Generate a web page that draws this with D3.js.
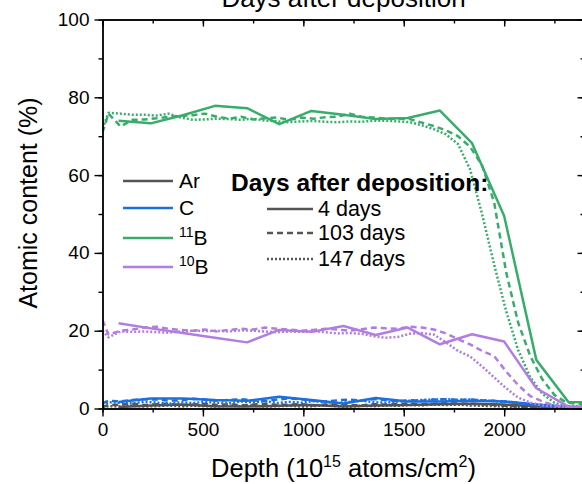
<!DOCTYPE html>
<html>
<head>
<meta charset="utf-8">
<script src="https://cdn.jsdelivr.net/npm/d3@7"></script>
<style>
  body { margin: 0; background: #fff; }
  text { font-family: Arial, "Liberation Sans", sans-serif; fill: #000; }
</style>
</head>
<body>
<div id="container"></div>
<script>
/* DATA */
// depth points (10^15 atoms/cm2) of the 4 day profile
const depth4 = [80, 240, 400, 560, 720, 880, 1040, 1200, 1360, 1520, 1680, 1840, 2000, 2160, 2320, 2480];
// depth points of the 103 and 147 day profiles
const depthLater = [0, 30, 90, 150, 210, 270, 330, 390, 450, 510, 570, 630, 690, 750, 810, 870, 930, 990, 1050, 1110,
  1170, 1230, 1290, 1350, 1410, 1470, 1530, 1590, 1650, 1710, 1770, 1830, 1890, 1950, 2010, 2070, 2130, 2190, 2250, 2310, 2370, 2430];

// 4 days
const ar4 = [0.4, 0.8, 1.0, 0.6, 0.5, 0.7, 0.9, 0.5, 0.8, 0.9, 1.1, 1.2, 1.0, 0.6, 0.3, 0.2];
const c4 = [1.7, 2.6, 2.6, 2.2, 2.0, 3.0, 2.2, 1.3, 2.7, 1.8, 1.8, 2.0, 1.8, 1.0, 0.4, 0.3];
const b11_4 = [74.0, 73.3, 75.4, 77.8, 77.2, 73.1, 76.5, 75.5, 74.4, 74.7, 76.6, 68.2, 49.5, 12.5, 1.7, 1.5];
const b10_4 = [21.9, 20.6, 19.4, 18.2, 17.0, 20.2, 19.7, 21.2, 18.9, 20.8, 16.5, 19.1, 17.2, 5.2, 0.5, 0.3];

// 103 days
const ar103 = [0.4, 0.9, 1.0, 1.2, 0.9, 1.1, 1.3, 0.8, 1.0, 1.2, 0.9, 1.1, 0.8, 1.0, 1.2, 0.9, 1.0, 1.1, 0.8, 1.0, 1.2,
  0.9, 0.8, 1.1, 1.0, 1.2, 1.3, 1.1, 1.2, 1.4, 1.3, 1.2, 1.1, 0.9, 0.7, 0.5, 0.4, 0.3, 0.2, 0.2, 0.2, 0.2];
const c103 = [1.3, 2.0, 1.8, 2.2, 2.4, 2.3, 2.0, 2.1, 2.5, 2.3, 2.0, 2.2, 2.4, 2.1, 1.9, 2.3, 2.6, 2.4, 2.0, 1.8, 2.1,
  2.3, 2.0, 2.4, 2.2, 1.9, 2.1, 2.0, 2.3, 2.4, 2.2, 2.3, 2.1, 2.0, 1.8, 1.5, 1.0, 0.6, 0.4, 0.3, 0.3, 0.3];
const b11_103 = [71.0, 75.8, 72.5, 74.2, 74.3, 74.6, 75.0, 75.2, 75.4, 75.8, 75.0, 74.5, 75.0, 74.3, 74.6, 74.8, 74.2,
  74.8, 74.5, 74.9, 75.0, 75.8, 75.0, 74.8, 74.5, 74.5, 74.4, 73.5, 72.6, 71.5, 70.0, 67.3, 62.5, 53.0, 35.0, 22.0, 13.5,
  7.5, 3.5, 1.5, 1.2, 1.0];
const b10_103 = [22.7, 19.0, 20.0, 20.3, 20.8, 21.0, 20.5, 20.2, 20.0, 20.3, 19.8, 20.2, 20.5, 20.3, 20.8, 20.5, 20.3,
  20.0, 20.2, 20.5, 20.3, 20.0, 20.4, 20.8, 20.6, 20.5, 21.0, 20.8, 20.3, 19.3, 17.8, 16.5, 14.8, 13.5, 9.5, 6.0, 3.2,
  1.8, 0.8, 0.4, 0.3, 0.3];

// 147 days
const ar147 = [0.3, 0.6, 0.5, 0.7, 0.5, 0.6, 0.8, 0.5, 0.7, 0.6, 0.5, 0.7, 0.6, 0.8, 0.5, 0.6, 0.7, 0.5, 0.6, 0.8, 0.6,
  0.5, 0.7, 0.6, 0.8, 0.7, 0.9, 0.8, 1.0, 0.9, 1.0, 0.8, 0.7, 0.6, 0.5, 0.4, 0.3, 0.2, 0.2, 0.2, 0.2, 0.1];
const c147 = [0.8, 1.6, 1.5, 1.3, 1.8, 1.5, 1.2, 1.6, 1.4, 1.7, 1.5, 1.3, 1.8, 1.6, 1.9, 1.4, 1.7, 1.5, 1.9, 1.6, 1.4,
  1.7, 2.0, 1.6, 1.5, 1.8, 2.0, 2.2, 2.3, 2.4, 2.2, 2.3, 2.1, 1.9, 1.7, 1.4, 1.1, 0.9, 0.7, 0.6, 0.5, 0.5];
const b11_147 = [72.0, 76.0, 75.8, 75.5, 75.5, 75.3, 75.8, 74.8, 74.2, 74.3, 74.5, 74.4, 74.2, 74.5, 74.0, 73.8, 73.6,
  73.8, 73.9, 73.7, 73.6, 73.8, 73.7, 74.0, 74.0, 73.8, 73.6, 72.8, 71.8, 70.5, 68.0, 61.5, 50.0, 37.0, 25.0, 15.0, 8.0,
  3.8, 1.5, 0.6, 0.4, 0.3];
const b10_147 = [20.0, 18.3, 19.8, 19.7, 19.8, 19.6, 19.5, 19.8, 20.0, 19.9, 20.0, 19.8, 20.1, 20.0, 19.8, 19.6, 19.8,
  19.7, 19.9, 19.6, 19.3, 19.4, 19.2, 18.6, 18.2, 18.4, 19.2, 19.4, 19.0, 17.0, 14.8, 13.4, 10.8, 8.0, 5.2, 2.8, 1.5,
  0.8, 0.5, 0.3, 0.2, 0.2];

const elements = ["Ar", "C", "11B", "10B"];
const dayLabels = ["4 days", "103 days", "147 days"];
const xTicks = [0, 500, 1000, 1500, 2000];
const yTicks = [0, 20, 40, 60, 80, 100];

/* CONSTANTS AND GLOBALS */
const width = 582, height = 484;
const margin = { top: 19.5, left: 102.5, right: -2.5, bottom: 75.5 };
const colors = { "Ar": "#555555", "C": "#1c6fe0", "11B": "#38ad6b", "10B": "#b27de3" };
const dashes = ["none", "6,4", "2,2"];

const series = [
  { el: "Ar", day: 0, x: depth4, y: ar4 },
  { el: "Ar", day: 1, x: depthLater, y: ar103 },
  { el: "Ar", day: 2, x: depthLater, y: ar147 },
  { el: "C", day: 0, x: depth4, y: c4 },
  { el: "C", day: 1, x: depthLater, y: c103 },
  { el: "C", day: 2, x: depthLater, y: c147 },
  { el: "11B", day: 0, x: depth4, y: b11_4 },
  { el: "11B", day: 1, x: depthLater, y: b11_103 },
  { el: "11B", day: 2, x: depthLater, y: b11_147 },
  { el: "10B", day: 0, x: depth4, y: b10_4 },
  { el: "10B", day: 1, x: depthLater, y: b10_103 },
  { el: "10B", day: 2, x: depthLater, y: b10_147 }
];

/* SCALES */
const xScale = d3.scaleLinear().domain([0, 2400]).range([margin.left, width - margin.right]);
const yScale = d3.scaleLinear().domain([0, 100]).range([height - margin.bottom, margin.top]);

const svg = d3.select("#container").append("svg")
  .attr("width", width)
  .attr("height", height);

svg.append("clipPath").attr("id", "plotclip")
  .append("rect")
  .attr("x", margin.left).attr("y", margin.top)
  .attr("width", width - margin.right - margin.left)
  .attr("height", height - margin.bottom - margin.top + 2);

// lines
const line = d3.line()
  .x(d => xScale(d[0]))
  .y(d => yScale(d[1]));

svg.append("g").attr("clip-path", "url(#plotclip)")
  .selectAll("path")
  .data(series)
  .join("path")
  .attr("d", s => line(s.x.map((x, i) => [x, s.y[i]])))
  .attr("fill", "none")
  .attr("stroke", s => colors[s.el])
  .attr("stroke-width", 2.5)
  .attr("stroke-dasharray", s => dashes[s.day])
  .attr("stroke-linejoin", "round");

/* AXES */
const minorX = d3.range(0, 2401, 250);
const minorY = d3.range(0, 101, 10);
const xBottom = height - margin.bottom, xTop = margin.top;
const yLeft = margin.left, yRight = width - margin.right;

function styleAxis(g) {
  g.select(".domain").attr("stroke", "#000").attr("stroke-width", 1.4);
  g.selectAll(".tick line").attr("stroke", "#000").attr("stroke-width", 1.4);
  g.selectAll(".tick text").style("font-size", "19px").attr("fill", "#000");
}

// bottom
svg.append("g").attr("transform", `translate(0,${xBottom})`)
  .call(d3.axisBottom(xScale).tickValues(minorX).tickSize(4).tickFormat("").tickSizeOuter(0)).call(styleAxis);
svg.append("g").attr("transform", `translate(0,${xBottom})`)
  .call(d3.axisBottom(xScale).tickValues(xTicks).tickSize(8).tickPadding(6).tickFormat(d3.format("d")).tickSizeOuter(0))
  .call(styleAxis);
// top
svg.append("g").attr("transform", `translate(0,${xTop})`)
  .call(d3.axisTop(xScale).tickValues(minorX).tickSize(-4).tickFormat("").tickSizeOuter(0)).call(styleAxis);
svg.append("g").attr("transform", `translate(0,${xTop})`)
  .call(d3.axisTop(xScale).tickValues(xTicks).tickSize(-7).tickFormat("").tickSizeOuter(0)).call(styleAxis);
// left
svg.append("g").attr("transform", `translate(${yLeft},0)`)
  .call(d3.axisLeft(yScale).tickValues(minorY).tickSize(4).tickFormat("").tickSizeOuter(0)).call(styleAxis);
svg.append("g").attr("transform", `translate(${yLeft},0)`)
  .call(d3.axisLeft(yScale).tickValues(yTicks).tickSize(8).tickPadding(5).tickFormat(d3.format("d")).tickSizeOuter(0))
  .call(styleAxis);
// right
svg.append("g").attr("transform", `translate(${yRight},0)`)
  .call(d3.axisRight(yScale).tickValues(minorY).tickSize(-4).tickFormat("").tickSizeOuter(0)).call(styleAxis);
svg.append("g").attr("transform", `translate(${yRight},0)`)
  .call(d3.axisRight(yScale).tickValues(yTicks).tickSize(-7).tickFormat("").tickSizeOuter(0)).call(styleAxis);

// axis titles
svg.append("text")
  .attr("transform", `translate(28,203) rotate(-90)`)
  .attr("text-anchor", "middle")
  .attr("dy", "0.35em")
  .style("font-size", "25px")
  .text("Atomic content (%)");

const xt = svg.append("text")
  .attr("x", (yLeft + yRight) / 2)
  .attr("y", 477)
  .attr("text-anchor", "middle")
  .style("font-size", "25.5px");
xt.append("tspan").text("Depth (10");
xt.append("tspan").attr("dy", -10).style("font-size", "16px").text("15");
xt.append("tspan").attr("dy", 10).text(" atoms/cm");
xt.append("tspan").attr("dy", -10).style("font-size", "16px").text("2");
xt.append("tspan").attr("dy", 10).text(")");

// cut-off title at the top
svg.append("text")
  .attr("x", (yLeft + yRight) / 2)
  .attr("y", 7)
  .attr("text-anchor", "middle")
  .style("font-size", "26px")
  .text("Days after deposition");

/* LEGENDS */
const legEl = svg.append("g");
const elRows = [181, 208, 238, 267];
elements.forEach((el, i) => {
  legEl.append("line")
    .attr("x1", 123).attr("x2", 173)
    .attr("y1", elRows[i]).attr("y2", elRows[i])
    .attr("stroke", colors[el]).attr("stroke-width", 2.5);
  const t = legEl.append("text")
    .attr("x", 179).attr("y", elRows[i] + 7)
    .style("font-size", "21px");
  if (el.length > 2) {
    t.append("tspan").attr("dy", -8).style("font-size", "14px").text(el.slice(0, 2));
    t.append("tspan").attr("dy", 8).text(el.slice(2));
  } else {
    t.text(el);
  }
});

const legDay = svg.append("g");
legDay.append("text")
  .attr("x", 231).attr("y", 191)
  .style("font-size", "24.5px").style("font-weight", "bold")
  .text("Days after deposition:");
const dayRows = [209, 233, 259];
dayLabels.forEach((d, i) => {
  legDay.append("line")
    .attr("x1", 267).attr("x2", 313)
    .attr("y1", dayRows[i]).attr("y2", dayRows[i])
    .attr("stroke", "#555555").attr("stroke-width", 2.5)
    .attr("stroke-dasharray", dashes[i]);
  legDay.append("text")
    .attr("x", 318).attr("y", dayRows[i] + 7)
    .style("font-size", "21.5px")
    .text(d);
});
</script>
</body>
</html>
